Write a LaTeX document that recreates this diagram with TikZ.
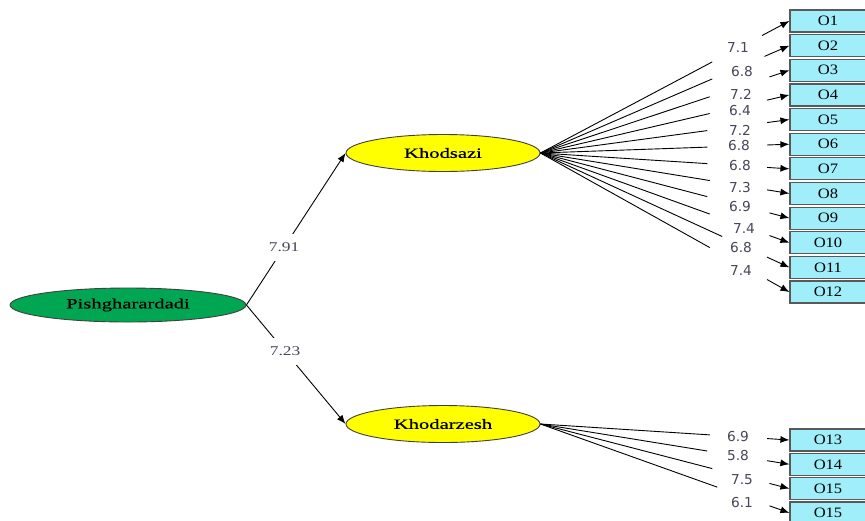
\documentclass[tikz,border=0pt]{standalone}
\usepackage{fontspec}
\setmainfont{Liberation Serif}
\newfontfamily\ovalfont[FakeStretch=1.45,FakeBold=0.6]{Liberation Serif}
\newfontfamily\boxfont[FakeStretch=1.15]{Liberation Serif}
\newfontfamily\coeffont[FakeStretch=1.3]{Liberation Serif}
\newfontfamily\loadfont{DejaVu Sans}
\usepackage{tikz}
\usetikzlibrary{arrows.meta,shapes.geometric,calc}

\definecolor{latgreen}{RGB}{0,166,81}
\definecolor{latyellow}{RGB}{255,255,0}
\definecolor{obscyan}{RGB}{160,238,250}
\definecolor{numgray}{RGB}{70,70,90}

\tikzset{
  latent/.style={ellipse,draw=black!75,inner sep=0pt,
    font=\ovalfont\fontsize{7.1}{8}\selectfont},
  observed/.style={rectangle,draw=black!65,line width=0.6pt,fill=obscyan,
    minimum width=38pt,minimum height=11pt,inner sep=0pt,
    font=\boxfont\fontsize{7.2}{8}\selectfont},
  coef/.style={fill=white,inner xsep=1pt,inner ysep=4.5pt,text=numgray,
    font=\coeffont\fontsize{6.7}{8}\selectfont},
  loading/.style={text=numgray,inner sep=0pt,
    font=\loadfont\fontsize{6.85}{8}\selectfont},
  arr/.style={-{Latex[length=4.5pt,width=3.5pt]}}
}

\begin{document}
\begin{tikzpicture}[x=0.5pt,y=-0.5pt,line width=0.45pt]
\clip (0,0) rectangle (865,520);

\node[latent,fill=latgreen,minimum width=118pt,minimum height=17pt] (pish) at (128,305) {Pishgharardadi};
\node[latent,fill=latyellow,minimum width=97pt,minimum height=18.5pt] (khodsazi) at (443,153) {Khodsazi};
\node[latent,fill=latyellow,minimum width=97pt,minimum height=18.5pt] (khodarzesh) at (443,424) {Khodarzesh};

\foreach \i in {1,...,12}
  \node[observed] (o\i) at (828,{21+24.64*(\i-1)}) {O\i};
\foreach \i/\t [count=\k from 0] in {13/O13,14/O14,15/O15,16/O15}
  \node[observed] (o\i) at (828,{440+24.3*\k}) {\t};

\draw[arr] (pish.east) -- node[coef,pos=.38] (c1) {7.91} (khodsazi.west);
\draw[arr] (pish.east) -- node[coef,pos=.39] (c2) {7.23} (khodarzesh.west);

\foreach \i/\e/\s in {1/.69/.89,2/.69/.9,3/.68/.92,4/.68/.91,5/.67/.91,6/.67/.91,
    7/.67/.91,8/.68/.91,9/.67/.92,10/.68/.92,11/.73/.91,12/.68/.91} {
  \draw (khodsazi.east) -- ($(khodsazi.east)!\e!(o\i.west)$);
  \draw[arr] ($(khodsazi.east)!\s!(o\i.west)$) -- (o\i.west);
}
\foreach \i/\e/\s in {13/.68/.91,14/.67/.91,15/.69/.92,16/.71/.92} {
  \draw (khodarzesh.east) -- ($(khodarzesh.east)!\e!(o\i.west)$);
  \draw[arr] ($(khodarzesh.east)!\s!(o\i.west)$) -- (o\i.west);
}

\foreach \v/\x/\y [count=\i] in {7.1/738/48,6.8/742/72,7.2/741/94,6.4/740/111,
    7.2/740/130,6.8/739/146,6.8/740/166,7.3/740/188,6.9/740/207,7.4/744/228,
    6.8/741/248,7.4/741/270,6.9/738/437,5.8/738/456,7.5/742/480,6.1/742/502}
  \node[loading] (l\i) at (\x,\y) {\v};
\end{tikzpicture}
\end{document}
